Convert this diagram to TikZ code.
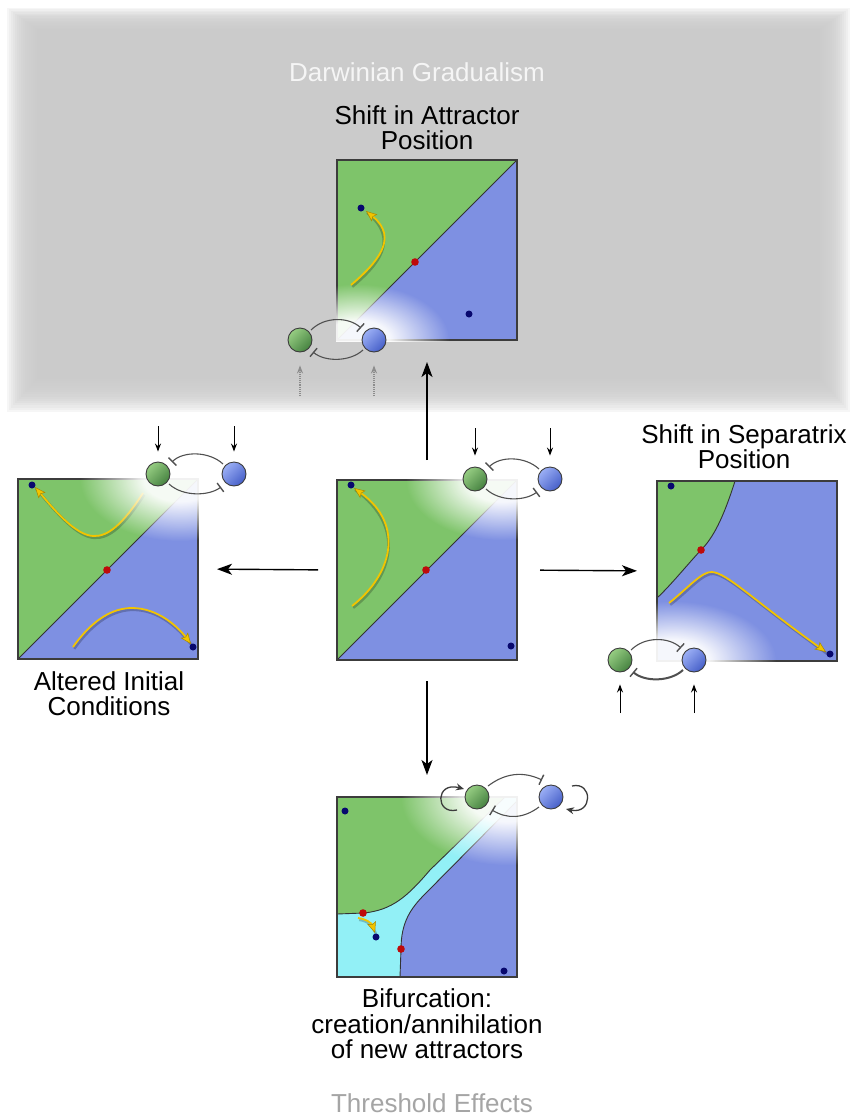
\documentclass[tikz,border=0pt]{standalone}
\usepackage{fontspec}
\setmainfont{Liberation Sans}
\usetikzlibrary{arrows.meta,calc,fadings}

\definecolor{pgreen}{RGB}{126,196,106}
\definecolor{pblue}{RGB}{126,144,226}
\definecolor{pcyan}{RGB}{146,240,246}
\definecolor{bggray}{RGB}{203,203,203}
\definecolor{navy}{RGB}{8,8,110}
\definecolor{dred}{RGB}{190,10,10}
\definecolor{trajc}{RGB}{242,196,0}
\definecolor{framec}{RGB}{60,60,60}
\definecolor{gl}{RGB}{150,205,130}
\definecolor{gd}{RGB}{70,130,65}
\definecolor{bl}{RGB}{155,175,245}
\definecolor{bd}{RGB}{70,95,200}
\definecolor{thr}{RGB}{165,165,165}

\pgfdeclareradialshading{glowshading}{\pgfpointorigin}{color(0bp)=(white); color(9bp)=(white); color(25bp)=(black); color(50bp)=(black)}
\pgfdeclarefading{glowfade}{\pgfuseshading{glowshading}}

\begin{document}
\begin{tikzpicture}[x=1pt,y=-1pt,
  panel/.style={draw=framec, line width=1.2pt, minimum width=180pt, minimum height=180pt, inner sep=0pt, outer sep=0pt},
  sep/.style={draw=black!80, line width=0.9pt},
  trajline/.style={draw=trajc, line width=1.8pt, -{Stealth[length=11pt,width=9pt,inset=2pt,fill=trajc,color=trajc!70!black,line width=0.5pt]}},
  tshadow/.style={draw=black, draw opacity=0.22, line width=2.6pt, transform canvas={shift={(1.2pt,-1.8pt)}}},
  att/.style={fill=navy},
  sad/.style={fill=dred},
  gball/.style={circle, minimum size=24pt, inner sep=0pt, draw=framec, line width=0.9pt, top color=gl, bottom color=gd, shading angle=45},
  bball/.style={circle, minimum size=24pt, inner sep=0pt, draw=framec, line width=0.9pt, top color=bl, bottom color=bd, shading angle=45},
  inh/.style={draw=framec!90, line width=1.1pt, -{Bar[width=11pt,line width=1.4pt]}},
  inp/.style={draw=black, line width=1pt, -{Stealth[length=8pt,width=6pt]}},
  dinp/.style={draw=black!45, line width=1.1pt, densely dotted, -{Stealth[length=8pt,width=6pt]}},
  lp/.style={draw=framec, line width=1.3pt, -{Stealth[length=8pt,width=7pt]}},
  big/.style={draw=black, line width=1.4pt, -{Stealth[length=15pt,width=11pt,inset=4pt]}},
  glow/.style={fill=white, fill opacity=0.93, path fading=glowfade},
  lab/.style={font=\fontsize{26}{26}\selectfont, anchor=base, inner sep=0pt}
]
\useasboundingbox (0,0) rectangle (850,1119);
\fill[white] (0,0) rectangle (850,1119);

% gray band with soft edges
\foreach \i in {0,...,19}{
  \fill[bggray, fill opacity=0.16] ({7+2*\i},{8+1.4*\i}) rectangle ({850-2*\i},{412-2.2*\i});
}

% ---------------- top panel ----------------
\begin{scope}[shift={(337,160)}]
  \fill[pblue] (0,0) rectangle (180,180);
  \fill[pgreen] (0,0) -- (180,0) -- (0,180) -- cycle;
  \draw[sep] (0,180) -- (180,0);
  \draw[tshadow] (14,125) .. controls (40,103) and (62,78) .. (29,51);
  \draw[trajline] (14,125) .. controls (40,103) and (62,78) .. (29,51);
  \fill[att] (24,48) circle[radius=3.5pt];
  \fill[att] (132,154) circle[radius=3.5pt];
  \fill[sad] (78,102) circle[radius=3.8pt];
\end{scope}
\node[panel] (pt) at (427,250) {};
\begin{scope}
  \clip (336,159) rectangle (518,341);
  \fill[glow] (357,340) ellipse [x radius=92pt, y radius=56pt];
\end{scope}

% ---------------- center panel ----------------
\begin{scope}[shift={(337,480)}]
  \fill[pblue] (0,0) rectangle (180,180);
  \fill[pgreen] (0,0) -- (180,0) -- (0,180) -- cycle;
  \draw[sep] (0,180) -- (180,0);
  \draw[tshadow] (15,126) .. controls (55,95) and (68,45) .. (17,8);
  \draw[trajline] (15,126) .. controls (55,95) and (68,45) .. (17,8);
  \fill[att] (14,5) circle[radius=3.5pt];
  \fill[att] (174,166) circle[radius=3.5pt];
  \fill[sad] (89,90) circle[radius=3.8pt];
\end{scope}
\node[panel] (pc) at (427,570) {};
\begin{scope}
  \clip (336,479) rectangle (518,661);
  \fill[glow] (502,480) ellipse [x radius=96pt, y radius=60pt];
\end{scope}

% ---------------- left panel ----------------
\begin{scope}[shift={(18,479)}]
  \fill[pblue] (0,0) rectangle (180,180);
  \fill[pgreen] (0,0) -- (180,0) -- (0,180) -- cycle;
  \draw[sep] (0,180) -- (180,0);
  \draw[tshadow] (125,14) .. controls (105,45) and (90,58) .. (75,57) .. controls (58,56) and (38,33) .. (17,8);
  \draw[trajline] (125,14) .. controls (105,45) and (90,58) .. (75,57) .. controls (58,56) and (38,33) .. (17,8);
  \draw[tshadow] (55,168) .. controls (75,140) and (95,129) .. (114,129) .. controls (140,129) and (160,148) .. (173,165);
  \draw[trajline] (55,168) .. controls (75,140) and (95,129) .. (114,129) .. controls (140,129) and (160,148) .. (173,165);
  \fill[att] (14,6) circle[radius=3.5pt];
  \fill[att] (175,168) circle[radius=3.5pt];
  \fill[sad] (89,91) circle[radius=3.8pt];
\end{scope}
\node[panel] (pl) at (108,569) {};
\begin{scope}
  \clip (17,478) rectangle (199,660);
  \fill[glow] (180,479) ellipse [x radius=100pt, y radius=62pt];
\end{scope}

% ---------------- right panel ----------------
\begin{scope}[shift={(657,481)}]
  \fill[pblue] (0,0) rectangle (180,180);
  \fill[pgreen] (0,0) -- (78,0) .. controls (66,38) and (56,57) .. (44,69) .. controls (30,84) and (14,104) .. (0,117) -- cycle;
  \draw[sep] (78,0) .. controls (66,38) and (56,57) .. (44,69) .. controls (30,84) and (14,104) .. (0,117);
  \draw[tshadow] (12,122) .. controls (30,108) and (45,90) .. (55,91) .. controls (70,92) and (95,118) .. (169,171);
  \draw[trajline] (12,122) .. controls (30,108) and (45,90) .. (55,91) .. controls (70,92) and (95,118) .. (169,171);
  \fill[att] (14,5) circle[radius=3.5pt];
  \fill[att] (173,173) circle[radius=3.5pt];
  \fill[sad] (44,69) circle[radius=3.8pt];
\end{scope}
\node[panel] (pr) at (747,571) {};
\begin{scope}
  \clip (656,480) rectangle (838,662);
  \fill[glow] (672,661) ellipse [x radius=104pt, y radius=60pt];
\end{scope}

% ---------------- bottom panel ----------------
\begin{scope}[shift={(337,797)}]
  \fill[pcyan] (0,0) rectangle (180,180);
  \fill[pgreen] (0,0) -- (168,0) -- (93,73) .. controls (70,100) and (55,113) .. (27,116) -- (0,117) -- cycle;
  \fill[pblue] (180,4) -- (180,180) -- (63,180) -- (64,152) .. controls (64,125) and (74,111) .. (88,97) -- cycle;
  \draw[sep] (0,117) -- (27,116) .. controls (55,113) and (70,100) .. (93,73) -- (168,0);
  \draw[sep] (63,180) -- (64,152) .. controls (64,125) and (74,111) .. (88,97) -- (180,4);
  \draw[tshadow] (21,121) .. controls (30,122) and (35,127) .. (38,136);
  \draw[trajline] (21,121) .. controls (30,122) and (35,127) .. (38,136);
  \fill[att] (8,14) circle[radius=3.5pt];
  \fill[att] (167,174) circle[radius=3.5pt];
  \fill[att] (39,140) circle[radius=3.5pt];
  \fill[sad] (26,116) circle[radius=3.8pt];
  \fill[sad] (64,152) circle[radius=3.8pt];
\end{scope}
\node[panel] (pb) at (427,887) {};
\begin{scope}
  \clip (336,796) rectangle (518,978);
  \fill[glow] (507,797) ellipse [x radius=106pt, y radius=68pt];
\end{scope}

% ---------------- big arrows ----------------
\draw[big, shorten <=20pt, shorten >=22pt] (pc.north) -- (pt.south);
\draw[big, shorten <=19pt, shorten >=19pt] (pc.west) -- (pl.east);
\draw[big, shorten <=23pt, shorten >=20pt] (pc.east) -- (pr.west);
\draw[big, shorten <=21pt, shorten >=22pt] (pc.south) -- (pb.north);

% ---------------- motifs ----------------
% top
\node[gball] (tg) at (300,340) {};
\node[bball] (tb) at (374,340) {};
\draw[inh] ($(tg)+(11,-10)$) .. controls ($(tg)+(25,-24)$) and ($(tb)+(-25,-23)$) .. ($(tb)+(-13,-12)$);
\draw[inh] ($(tb)+(-11,10)$) .. controls ($(tb)+(-24,22)$) and ($(tg)+(25,22)$) .. ($(tg)+(13,12)$);
\coordinate (tgi) at (300,396);
\coordinate (tbi) at (374,396);
\draw[dinp, shorten >=13pt] (tgi) -- (tg);
\draw[dinp, shorten >=13pt] (tbi) -- (tb);

% center
\node[gball] (cg) at (475,479) {};
\node[bball] (cb) at (550,479) {};
\draw[inh] ($(cb)+(-11,-10)$) .. controls ($(cb)+(-25,-23)$) and ($(cg)+(25,-23)$) .. ($(cg)+(14,-12)$);
\draw[inh] ($(cg)+(11,10)$) .. controls ($(cg)+(25,23)$) and ($(cb)+(-25,22)$) .. ($(cb)+(-13,13)$);
\coordinate (cgi) at (475,428);
\coordinate (cbi) at (550,428);
\draw[inp, shorten >=11pt] (cgi) -- (cg);
\draw[inp, shorten >=11pt] (cbi) -- (cb);

% left
\node[gball] (lg) at (158,474) {};
\node[bball] (lb) at (234,474) {};
\draw[inh] ($(lb)+(-11,-10)$) .. controls ($(lb)+(-25,-23)$) and ($(lg)+(25,-23)$) .. ($(lg)+(14,-12)$);
\draw[inh] ($(lg)+(11,10)$) .. controls ($(lg)+(25,23)$) and ($(lb)+(-25,22)$) .. ($(lb)+(-13,13)$);
\coordinate (lgi) at (158,426);
\coordinate (lbi) at (234,426);
\draw[inp, shorten >=10pt] (lgi) -- (lg);
\draw[inp, shorten >=10pt] (lbi) -- (lb);

% right
\node[gball] (rg) at (620,660) {};
\node[bball] (rb) at (694,660) {};
\draw[inh] ($(rg)+(11,-10)$) .. controls ($(rg)+(25,-24)$) and ($(rb)+(-25,-23)$) .. ($(rb)+(-13,-12)$);
\draw[inh, line width=2pt] ($(rb)+(-11,10)$) .. controls ($(rb)+(-24,22)$) and ($(rg)+(25,22)$) .. ($(rg)+(13,12)$);
\coordinate (rgi) at (620,713);
\coordinate (rbi) at (694,713);
\draw[inp, shorten >=12pt] (rgi) -- (rg);
\draw[inp, shorten >=12pt] (rbi) -- (rb);

% bottom
\node[gball] (bg) at (477,797) {};
\node[bball] (bb) at (551,797) {};
\draw[inh] ($(bg)+(11,-11)$) .. controls ($(bg)+(28,-24)$) and ($(bb)+(-28,-26)$) .. ($(bb)+(-9,-17)$);
\draw[inh] ($(bb)+(-12,10)$) .. controls ($(bb)+(-28,22)$) and ($(bg)+(30,22)$) .. ($(bg)+(15,13)$);
\draw[lp] ($(bg)+(-20,13)$) .. controls ($(bg)+(-42,18)$) and ($(bg)+(-42,-16)$) .. ($(bg)+(-13,-8)$);
\draw[lp] ($(bb)+(21,-11)$) .. controls ($(bb)+(42,-16)$) and ($(bb)+(42,18)$) .. ($(bb)+(15,12)$);

% ---------------- labels ----------------
\node[lab, text=white!96!black] (tdg) at (417,81) {Darwinian Gradualism};
\node[lab] (tsa1) at (427,124) {Shift in Attractor};
\node[lab] (tsa2) at (427,149) {Position};
\node[lab] (tss1) at (744,443) {Shift in Separatrix};
\node[lab] (tss2) at (744,468) {Position};
\node[lab] (tai1) at (109,690) {Altered Initial};
\node[lab] (tai2) at (109,715) {Conditions};
\node[lab] (tbf1) at (427,1007) {Bifurcation:};
\node[lab] (tbf2) at (427,1033) {creation/annihilation};
\node[lab] (tbf3) at (427,1058) {of new attractors};
\node[lab, text=thr] (tte) at (432,1112) {Threshold Effects};
\end{tikzpicture}
\end{document}
